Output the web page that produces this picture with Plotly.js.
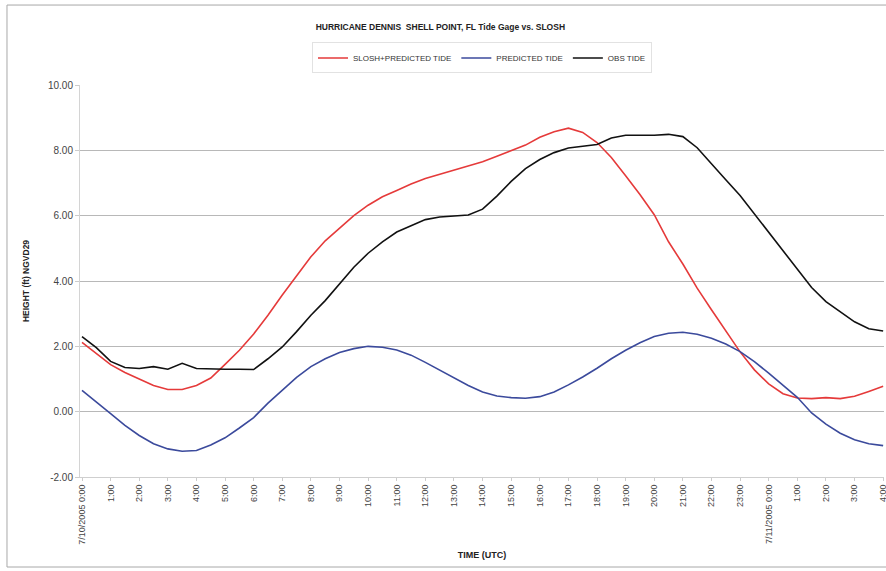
<!DOCTYPE html>
<html>
<head>
<meta charset="utf-8">
<script src="https://cdn.plot.ly/plotly-3.0.1.min.js"></script>
<style>
  html, body { margin: 0; padding: 0; background: #fff; }
  #chart { width: 886px; height: 571px; }
</style>
</head>
<body>
<div id="chart"></div>
<script>
// Hours since 7/10/2005 0:00 UTC, half-hour steps
const hours = [
  0, 0.5, 1, 1.5, 2, 2.5, 3, 3.5, 4, 4.5, 5, 5.5, 6, 6.5, 7, 7.5, 8, 8.5, 9, 9.5,
  10, 10.5, 11, 11.5, 12, 12.5, 13, 13.5, 14, 14.5, 15, 15.5, 16, 16.5, 17, 17.5,
  18, 18.5, 19, 19.5, 20, 20.5, 21, 21.5, 22, 22.5, 23, 23.5, 24, 24.5, 25, 25.5,
  26, 26.5, 27, 27.5, 28
];

// SLOSH + predicted tide (ft NGVD29)
const sloshPredicted = [
  2.12, 1.78, 1.44, 1.20, 1.00, 0.80, 0.68, 0.68, 0.80, 1.03, 1.45, 1.88, 2.38, 2.95,
  3.57, 4.17, 4.74, 5.23, 5.63, 6.00, 6.32, 6.58, 6.77, 6.97, 7.14, 7.27, 7.40, 7.53,
  7.65, 7.82, 7.99, 8.16, 8.40, 8.57, 8.68, 8.55, 8.24, 7.78, 7.22, 6.65, 6.03, 5.20,
  4.52, 3.78, 3.12, 2.48, 1.83, 1.28, 0.85, 0.55, 0.42, 0.40, 0.43, 0.40, 0.47, 0.62,
  0.78
];

// Predicted astronomical tide (ft NGVD29)
const predictedTide = [
  0.65, 0.28, -0.06, -0.42, -0.73, -0.98, -1.14, -1.21, -1.19, -1.02, -0.80, -0.50,
  -0.18, 0.26, 0.67, 1.05, 1.38, 1.62, 1.81, 1.93, 2.00, 1.97, 1.89, 1.73, 1.51, 1.27,
  1.02, 0.80, 0.60, 0.48, 0.43, 0.41, 0.46, 0.60, 0.82, 1.06, 1.33, 1.62, 1.88, 2.11,
  2.30, 2.40, 2.43, 2.37, 2.25, 2.07, 1.84, 1.53, 1.18, 0.82, 0.44, -0.04, -0.38,
  -0.66, -0.86, -0.98, -1.04
];

// Observed tide at Shell Point gage (ft NGVD29)
const obsTide = [
  2.30, 1.96, 1.54, 1.35, 1.32, 1.38, 1.30, 1.48, 1.32, 1.30, 1.30, 1.30, 1.29, 1.62,
  1.98, 2.45, 2.95, 3.40, 3.90, 4.42, 4.85, 5.20, 5.50, 5.70, 5.88, 5.96, 5.98, 6.02,
  6.20, 6.60, 7.05, 7.44, 7.72, 7.93, 8.07, 8.13, 8.18, 8.38, 8.46, 8.46, 8.46, 8.49,
  8.42, 8.08, 7.58, 7.10, 6.62, 6.05, 5.48, 4.93, 4.36, 3.80, 3.37, 3.05, 2.75, 2.54,
  2.47
];

// Hourly axis labels
const tickHours = [];
for (let h = 0; h <= 28; h++) tickHours.push(h);
const tickLabels = [
  "7/10/2005 0:00", "1:00", "2:00", "3:00", "4:00", "5:00", "6:00", "7:00", "8:00",
  "9:00", "10:00", "11:00", "12:00", "13:00", "14:00", "15:00", "16:00", "17:00",
  "18:00", "19:00", "20:00", "21:00", "22:00", "23:00", "7/11/2005 0:00", "1:00",
  "2:00", "3:00", "4:00"
];

const yTicks = [-2, 0, 2, 4, 6, 8, 10];
const yTickLabels = ["-2.00", "0.00", "2.00", "4.00", "6.00", "8.00", "10.00"];

const FONT = "Liberation Sans, Arial, sans-serif";

const traces = [
  { x: hours, y: sloshPredicted, name: "SLOSH+PREDICTED TIDE", type: "scatter",
    mode: "lines", line: { color: "#e53a3a", width: 1.6 } },
  { x: hours, y: predictedTide, name: "PREDICTED TIDE", type: "scatter",
    mode: "lines", line: { color: "#3b4a9c", width: 1.6 } },
  { x: hours, y: obsTide, name: "OBS TIDE", type: "scatter",
    mode: "lines", line: { color: "#111111", width: 1.6 } }
];

const layout = {
  width: 886, height: 571,
  paper_bgcolor: "#ffffff", plot_bgcolor: "#ffffff",
  margin: { l: 80, r: 2, t: 85, b: 94 },
  font: { family: FONT, color: "#333" },
  title: {
    text: "<b>HURRICANE DENNIS  SHELL POINT, FL Tide Gage vs. SLOSH</b>",
    font: { family: FONT, size: 8.5, color: "#222" },
    x: 0.497, xanchor: "center", xref: "container",
    y: 0.953, yanchor: "middle", yref: "container"
  },
  showlegend: true,
  legend: {
    orientation: "h", x: 0.5, xanchor: "center", y: 1.069, yanchor: "middle",
    font: { family: FONT, size: 8, color: "#333" },
    bordercolor: "#e2e2e2", borderwidth: 1, bgcolor: "#ffffff",
    itemwidth: 30, tracegroupgap: 0
  },
  xaxis: {
    range: [-0.07, 28.03],
    tickmode: "array", tickvals: tickHours, ticktext: tickLabels,
    tickangle: -90, tickfont: { family: FONT, size: 9, color: "#444" },
    ticklabeloverflow: "allow",
    ticks: "outside", ticklen: 3, tickcolor: "#ccc",
    showgrid: false, zeroline: false,
    showline: true, linecolor: "#cfcfcf", linewidth: 1,
    title: { text: "<b>TIME (UTC)</b>", font: { family: FONT, size: 9, color: "#222" }, standoff: 8 }
  },
  yaxis: {
    range: [-2, 10],
    tickmode: "array", tickvals: yTicks, ticktext: yTickLabels,
    tickfont: { family: FONT, size: 10, color: "#444" },
    ticks: "outside", ticklen: 4, tickcolor: "#ccc",
    showgrid: true, gridcolor: "#b8b8b8", gridwidth: 1,
    zeroline: false, showline: true, linecolor: "#d4d4d4", linewidth: 1,
    title: { text: "<b>HEIGHT (ft) NGVD29</b>", font: { family: FONT, size: 8.5, color: "#222" }, standoff: 16 }
  },
  shapes: [
    // chart-area frame
    { type: "rect", xref: "paper", yref: "paper",
      x0: -0.0908, x1: 1.02, y0: -0.2296, y1: 1.204,
      line: { color: "#a8a8a8", width: 1 }, fillcolor: "rgba(0,0,0,0)" }
  ]
};

Plotly.newPlot("chart", traces, layout, { displayModeBar: false, staticPlot: true });
</script>
</body>
</html>
